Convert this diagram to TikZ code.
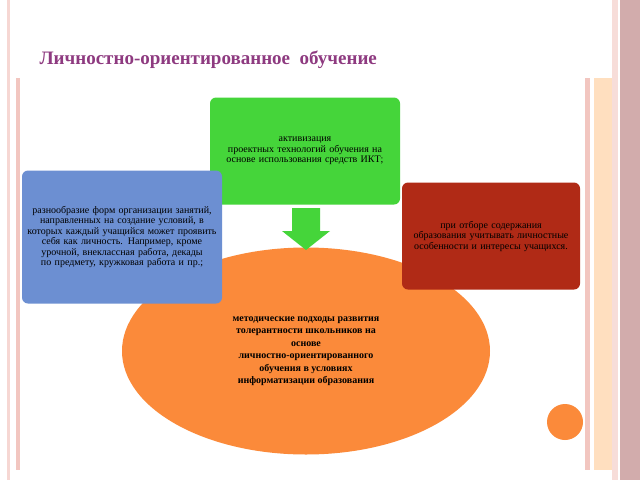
\documentclass[tikz,border=0pt]{standalone}
\usepackage{fontspec}
\setmainfont{Liberation Serif}
\usetikzlibrary{positioning,shapes.geometric}
\definecolor{titlecol}{HTML}{8E3A80}
\definecolor{greenbox}{HTML}{45D53A}
\definecolor{bluebox}{HTML}{6C8FD2}
\definecolor{redbox}{HTML}{B02A16}
\definecolor{orangefill}{HTML}{FB8A3A}
\definecolor{framepink}{HTML}{F2C6C0}
\tikzset{
  box/.style={rounded corners=6pt, align=center, font=\fontsize{10}{10.5}\selectfont, inner sep=3pt},
  stripe/.style={fill=framepink}
}
\begin{document}
\begin{tikzpicture}[x=1pt,y=-1pt]
    % slide frame
    \fill[white] (0,0) rectangle (640,480);
    \useasboundingbox (0,0) rectangle (640,480);
    \fill[framepink!70] (7,0) rectangle (10,480);
    \fill[stripe] (16,78) rectangle (20,470);
    \fill[stripe] (585,78) rectangle (590,470);
    \fill[orange!25] (594,78) rectangle (612,470);
    \fill[framepink!60] (612,0) rectangle (618,480);
    \fill[red!30!gray!50] (620,0) rectangle (640,480);
    % title
    \node[font=\bfseries\fontsize{19}{20}\selectfont, text=titlecol, anchor=west] (title) at (36,60) {Личностно-ориентированное\ \ обучение};
    % centre ellipse
    \node[ellipse, fill=orangefill, minimum width=368, minimum height=207, align=center,
          font=\bfseries\fontsize{10}{12.5}\selectfont] (centre) at (306,351)
          {\raisebox{18pt}{\parbox{150pt}{\centering методические подходы развития толерантности школьников на основе личностно-ориентированного обучения в условиях информатизации образования}}};
    % three boxes
    \node[box, fill=greenbox, minimum width=190, minimum height=107, text width=175] (ikt) at (305,151)
          {активизация\\проектных технологий обучения на основе использования средств ИКТ;};
    \node[box, fill=bluebox, minimum width=200, minimum height=133, text width=190] (forms) at (122,237)
          {разнообразие форм организации занятий, направленных на создание условий, в которых каждый учащийся может проявить себя как личность. Например, кроме урочной, внеклассная работа, декады по предмету, кружковая работа и пр.;};
    \node[box, fill=redbox, minimum width=178, minimum height=107, text width=168] (content) at (491,236)
          {при отборе содержания образования учитывать личностные особенности и интересы учащихся.};
    % arrow
    \fill[greenbox] (292,208) -- (320,208) -- (320,231) -- (330,231) -- (306,250) -- (282,231) -- (292,231) -- cycle;
    % small circle
    \node[circle, fill=orangefill, minimum size=36] (dot) at (565,422) {};
\end{tikzpicture}
\end{document}
